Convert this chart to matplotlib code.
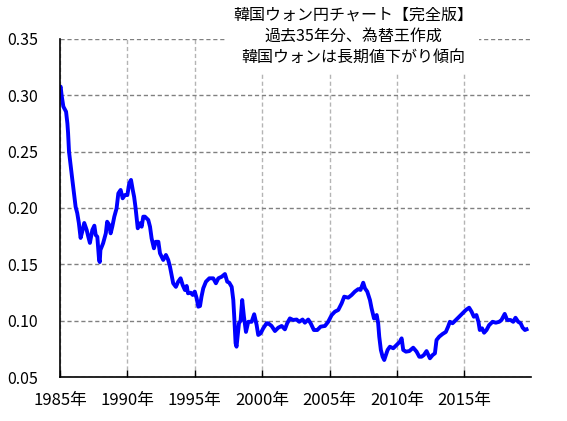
import numpy as np
import matplotlib
matplotlib.use('Agg')
from matplotlib import pyplot as plt

plt.rcParams['font.family'] = ['Noto Sans CJK JP', 'DejaVu Sans']

# year (decimal) and KRW/JPY rate
years = [1985.0, 1985.05, 1985.12, 1985.25, 1985.45, 1985.55, 1985.6, 1985.67, 1985.8, 1985.9,
         1986.04, 1986.16, 1986.28, 1986.4, 1986.53, 1986.65, 1986.8, 1986.98, 1987.1, 1987.22,
         1987.4, 1987.55, 1987.65, 1987.77, 1987.9, 1987.95, 1988.0, 1988.2, 1988.4, 1988.5,
         1988.65, 1988.76, 1988.88, 1989.03, 1989.2, 1989.33, 1989.5, 1989.65, 1989.82, 1990.0,
         1990.14, 1990.27, 1990.4, 1990.5, 1990.6, 1990.7, 1990.77, 1990.93, 1991.06, 1991.18,
         1991.3, 1991.55, 1991.68, 1991.8, 1991.97, 1992.1, 1992.3, 1992.42, 1992.66, 1992.86,
         1993.03, 1993.16, 1993.28, 1993.4, 1993.6, 1993.77, 1993.95, 1994.1, 1994.27, 1994.4,
         1994.5, 1994.7, 1994.85, 1995.0, 1995.14, 1995.26, 1995.39, 1995.5, 1995.63, 1995.83,
         1996.08, 1996.37, 1996.57, 1996.75, 1997.0, 1997.24, 1997.41, 1997.56, 1997.74, 1997.86,
         1997.93, 1998.03, 1998.1, 1998.18, 1998.28, 1998.4, 1998.52, 1998.65, 1998.8, 1998.97,
         1999.22, 1999.41, 1999.59, 1999.71, 1999.89, 2000.08, 2000.33, 2000.45, 2000.7, 2000.95,
         2001.2, 2001.45, 2001.69, 2001.86, 2002.06, 2002.3, 2002.56, 2002.75, 2003.0, 2003.17,
         2003.42, 2003.6, 2003.84, 2004.09, 2004.34, 2004.66, 2004.9, 2005.16, 2005.4, 2005.65,
         2005.9, 2006.09, 2006.39, 2006.64, 2006.88, 2007.13, 2007.3, 2007.5, 2007.63, 2007.8,
         2008.0, 2008.12, 2008.3, 2008.5, 2008.61, 2008.69, 2008.81, 2008.94, 2009.06, 2009.18,
         2009.31, 2009.48, 2009.73, 2009.98, 2010.22, 2010.35, 2010.47, 2010.67, 2010.92, 2011.21,
         2011.46, 2011.66, 2011.83, 2012.0, 2012.2, 2012.45, 2012.65, 2012.82, 2012.94, 2013.14,
         2013.39, 2013.63, 2013.8, 2013.93, 2014.13, 2014.38, 2014.62, 2014.87, 2015.12, 2015.36,
         2015.54, 2015.71, 2015.9, 2016.05, 2016.15, 2016.32, 2016.47, 2016.65, 2016.84, 2017.1,
         2017.34, 2017.59, 2017.76, 2018.0, 2018.18, 2018.43, 2018.63, 2018.8, 2019.0, 2019.18,
         2019.33, 2019.5, 2019.62]
rates = [0.3065, 0.3077, 0.300, 0.290, 0.2855, 0.275, 0.2666, 0.250, 0.2367, 0.2267,
         0.213, 0.201, 0.1955, 0.1867, 0.1734, 0.179, 0.1867, 0.1805, 0.1745, 0.169,
         0.1805, 0.1843, 0.176, 0.1745, 0.1539, 0.152, 0.1627, 0.1687, 0.1775, 0.1878,
         0.185, 0.1775, 0.1834, 0.1923, 0.1997, 0.213, 0.216, 0.2086, 0.2115, 0.2115,
         0.222, 0.2249, 0.216, 0.210, 0.201, 0.1894, 0.182, 0.1864, 0.1834, 0.1923,
         0.1923, 0.1894, 0.1834, 0.173, 0.1642, 0.170, 0.170, 0.1598, 0.1539, 0.1583,
         0.1539, 0.148, 0.1405, 0.1332, 0.130, 0.1346, 0.1376, 0.1317, 0.1272, 0.1308,
         0.1243, 0.1248, 0.1228, 0.1258, 0.1199, 0.1124, 0.113, 0.1213, 0.1287, 0.1346,
         0.1376, 0.1376, 0.1332, 0.1376, 0.139, 0.1414, 0.1346, 0.1337, 0.130, 0.1183,
         0.1035, 0.080, 0.0769, 0.0858, 0.0977, 0.100, 0.1183, 0.1035, 0.090, 0.099,
         0.099, 0.1057, 0.0962, 0.0873, 0.0888, 0.0932, 0.0977, 0.0977, 0.0953, 0.0908,
         0.0938, 0.0953, 0.0923, 0.0977, 0.102, 0.1006, 0.101, 0.099, 0.101, 0.0982,
         0.101, 0.0977, 0.0917, 0.0917, 0.0947, 0.0953, 0.099, 0.105, 0.108, 0.1095,
         0.1154, 0.1213, 0.1204, 0.1228, 0.1258, 0.128, 0.1273, 0.1337, 0.1287, 0.1258,
         0.1183, 0.111, 0.102, 0.105, 0.0977, 0.0858, 0.074, 0.068, 0.0651, 0.0695,
         0.074, 0.0769, 0.0755, 0.0784, 0.0813, 0.0843, 0.074, 0.0725, 0.073, 0.076,
         0.0725, 0.068, 0.068, 0.0695, 0.073, 0.0666, 0.0695, 0.071, 0.0828, 0.0858,
         0.0882, 0.090, 0.0947, 0.099, 0.0977, 0.1006, 0.1035, 0.1065, 0.1095, 0.1115,
         0.108, 0.1035, 0.105, 0.099, 0.0917, 0.0932, 0.0893, 0.0917, 0.096, 0.099,
         0.0982, 0.099, 0.1006, 0.106, 0.1006, 0.1006, 0.099, 0.1026, 0.099, 0.0977,
         0.0938, 0.0917, 0.0923]

tick_years = [1985, 1990, 1995, 2000, 2005, 2010, 2015]
tick_labels = ['1985年', '1990年', '1995年', '2000年', '2005年', '2010年', '2015年']
y_ticks = [0.05, 0.10, 0.15, 0.20, 0.25, 0.30, 0.35]

title_lines = '韓国ウォン円チャート【完全版】\n過去35年分、為替王作成\n韓国ウォンは長期値下がり傾向'

fig = plt.figure(figsize=(5.67, 4.21), dpi=100)
ax = fig.add_axes([0.1058, 0.1045, 0.8307, 0.8029])

ax.plot(years, rates, color='#0000ff', lw=2.8, solid_joinstyle='round')

ax.set_xlim(1985, 2019.95)
ax.set_ylim(0.05, 0.35)
ax.set_xticks(tick_years)
ax.set_xticklabels(tick_labels)
ax.set_yticks(y_ticks)
ax.set_yticklabels(['%.2f' % v for v in y_ticks])
ax.tick_params(axis='x', direction='in', length=5, width=1, pad=11, labelsize=12, colors='black')
ax.tick_params(axis='y', direction='in', length=0, pad=16, labelsize=11.5)

ax.grid(axis='y', color='#808080', linestyle=(0, (3, 2)), lw=1)
ax.grid(axis='x', color='#b4b4b4', linestyle=(0, (3, 2)), lw=1)
ax.spines['top'].set_visible(False)
ax.spines['right'].set_visible(False)
ax.spines['left'].set_linewidth(1.2)
ax.spines['bottom'].set_linewidth(1.2)

fig.text(353 / 567, 1 - 7 / 421, title_lines, ha='center', va='top', fontsize=11.5,
         linespacing=1.32, bbox=dict(facecolor='white', edgecolor='none', pad=4), zorder=5)

fig.savefig('out.png', dpi=100)
